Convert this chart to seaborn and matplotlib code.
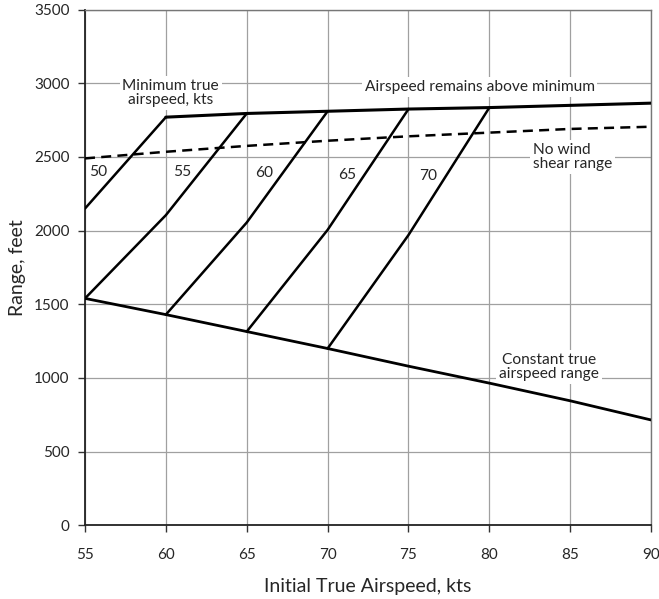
import matplotlib
matplotlib.use("Agg")
import matplotlib.pyplot as plt
import pandas as pd
import seaborn as sns

# =========================
# Data
# =========================
airspeed = [55, 60, 65, 70, 75, 80, 85, 90]

# upper envelope: airspeed remains above minimum
above_min_x = [60, 65, 70, 75, 80, 85, 90]
above_min_y = [2770, 2795, 2810, 2825, 2835, 2850, 2865]

# no wind shear range (dashed)
no_shear_y = [2490, 2535, 2575, 2610, 2640, 2665, 2690, 2705]

# constant true airspeed range
const_tas_y = [1540, 1430, 1315, 1200, 1080, 965, 845, 715]

# curves for each minimum true airspeed
min_tas_labels = ["50", "55", "60", "65", "70"]
min_tas_x = [
    [55, 60],
    [55, 60, 65],
    [60, 65, 70],
    [65, 70, 75],
    [70, 75, 80],
]
min_tas_y = [
    [2150, 2770],
    [1540, 2105, 2795],
    [1430, 2055, 2810],
    [1315, 2005, 2825],
    [1200, 1970, 2835],
]
label_x = [55.8, 61.0, 66.1, 71.2, 76.2]
label_y = [2400, 2395, 2390, 2380, 2370]

x_ticks = [55, 60, 65, 70, 75, 80, 85, 90]
y_ticks = [0, 500, 1000, 1500, 2000, 2500, 3000, 3500]

# =========================
# Style
# =========================
sns.set_theme(style="white")
plt.rcParams["font.family"] = ["Lato", "DejaVu Sans"]

fig = plt.figure(figsize=(6.59, 5.99), dpi=100)
ax = fig.add_axes([0.129, 0.123, 0.859, 0.861])

box = dict(facecolor="white", edgecolor="none", pad=2)
fs = 11.2

sns.lineplot(x=above_min_x, y=above_min_y, color="black", lw=2.2, ax=ax, zorder=4)
sns.lineplot(x=airspeed, y=no_shear_y, color="black", lw=1.8, ax=ax,
             linestyle=(0, (4, 2.5)), zorder=4)
sns.lineplot(x=airspeed, y=const_tas_y, color="black", lw=2.0, ax=ax, zorder=4)

for xs, ys in zip(min_tas_x, min_tas_y):
    df = pd.DataFrame({"x": xs, "y": ys})
    sns.lineplot(data=df, x="x", y="y", color="black", lw=1.8, ax=ax,
                 sort=False, zorder=4)

for lab, lx, ly in zip(min_tas_labels, label_x, label_y):
    ax.text(lx, ly, lab, fontsize=fs, ha="center", va="center", zorder=5)

# annotations
ax.text(60.3, 2935, "Minimum true\nairspeed, kts", fontsize=fs, ha="center",
        va="center", linespacing=1.05, bbox=box, zorder=3)
ax.text(79.4, 2975, "Airspeed remains above minimum", fontsize=fs, ha="center",
        va="center", bbox=box, zorder=3)
ax.text(82.7, 2500, "No wind\nshear range", fontsize=fs, ha="left",
        va="center", linespacing=1.05, bbox=box, zorder=3)
ax.text(83.7, 1075, "Constant true\nairspeed range", fontsize=fs, ha="center",
        va="center", linespacing=1.05, bbox=box, zorder=3)

# axes
ax.set_xlim(55, 90)
ax.set_ylim(0, 3500)
ax.set_xticks(x_ticks)
ax.set_yticks(y_ticks)
ax.grid(True, color="#a0a0a0", lw=0.9, zorder=0)
ax.set_axisbelow(True)
ax.tick_params(axis="both", direction="out", length=5, width=1, color="#333333",
               labelsize=11, pad=6, left=True, bottom=True)
ax.tick_params(axis="x", pad=11)
for side in ["left", "bottom"]:
    ax.spines[side].set_color("#222222")
    ax.spines[side].set_linewidth(1.3)
for side in ["top", "right"]:
    ax.spines[side].set_color("#777777")
    ax.spines[side].set_linewidth(1.0)

ax.set_xlabel("Initial True Airspeed, kts", fontsize=14)
ax.set_ylabel("Range, feet", fontsize=14)
ax.xaxis.set_label_coords(0.5, -0.102)
ax.yaxis.set_label_coords(-0.104, 0.5)

fig.savefig("out.png", dpi=100, facecolor="white")
